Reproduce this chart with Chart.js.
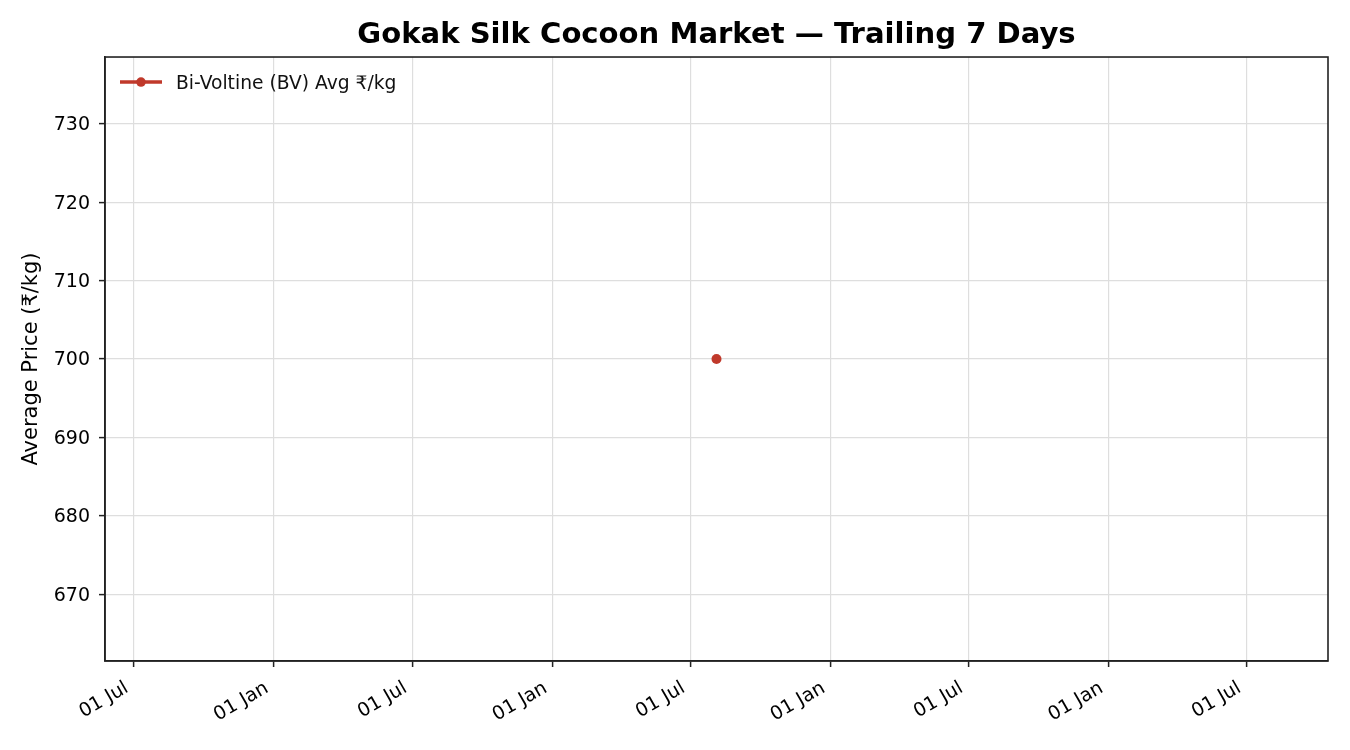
<!DOCTYPE html>
<html>
<head>
<meta charset="utf-8">
<script src="https://cdn.jsdelivr.net/npm/chart.js@4.4.1/dist/chart.umd.min.js"></script>
<style>
  html, body { margin: 0; padding: 0; background: #fff; }
</style>
</head>
<body>
<canvas id="chart" width="1350" height="750"></canvas>
<script>
// market data (one trading day in the trailing window)
const sampleDates = ["2025-08-04"]
const bvAvgPrice = [700]

// axis ticks
const xTickDates = [
  "2023-07-01", "2024-01-01", "2024-07-01", "2025-01-01", "2025-07-01",
  "2026-01-01", "2026-07-01", "2027-01-01", "2027-07-01",
]
const yTicks = [670, 680, 690, 700, 710, 720, 730]

const SERIES_LABEL = "Bi-Voltine (BV) Avg ₹/kg"
const SERIES_COLOR = "#c0392b"
const FONT = "'DejaVu Sans', 'Noto Sans', sans-serif"
const MONTHS = ["Jan", "Feb", "Mar", "Apr", "May", "Jun", "Jul", "Aug", "Sep", "Oct", "Nov", "Dec"]

const toDays = (iso) => {
  const [y, m, d] = iso.split("-").map(Number)
  return Date.UTC(y, m - 1, d) / 864e5
}
const fmtDay = (days) => {
  const dt = new Date(days * 864e5)
  return String(dt.getUTCDate()).padStart(2, "0") + " " + MONTHS[dt.getUTCMonth()]
}

// single-point autoscale the way matplotlib does it: +-2 years, then 5% margin
const xs = sampleDates.map(toDays)
const xPad = 2 * 365 * 1.1
const xMin = Math.min(...xs) - xPad
const xMax = Math.max(...xs) + xPad
const yMid = bvAvgPrice[0]
const yHalf = Math.abs(yMid) * 0.05 * 1.1
const yMin = yMid - yHalf
const yMax = yMid + yHalf

// legend in the upper left corner of the plot (line + marker, like mpl)
const insetLegend = {
  id: "insetLegend",
  afterDatasetsDraw(chart) {
    const { ctx, chartArea: a } = chart
    const ds = chart.data.datasets[0]
    const x0 = a.left + 15
    const y0 = a.top + 25
    ctx.save()
    ctx.strokeStyle = ds.borderColor
    ctx.lineWidth = 3.3
    ctx.beginPath()
    ctx.moveTo(x0, y0)
    ctx.lineTo(x0 + 42, y0)
    ctx.stroke()
    ctx.fillStyle = ds.borderColor
    ctx.beginPath()
    ctx.arc(x0 + 21, y0, 4.8, 0, Math.PI * 2)
    ctx.fill()
    ctx.fillStyle = "#111"
    ctx.font = "18.7px " + FONT
    ctx.textBaseline = "alphabetic"
    ctx.textAlign = "left"
    ctx.fillText(ds.label, x0 + 56, y0 + 6.5)
    ctx.restore()
  },
}

const frame = {
  id: "frame",
  afterDraw(chart) {
    const { ctx, chartArea: a } = chart
    ctx.save()
    ctx.strokeStyle = "#222"
    ctx.lineWidth = 1.6
    ctx.strokeRect(a.left, a.top, a.right - a.left, a.bottom - a.top)
    ctx.restore()
  },
}

const gridStyle = {
  color: "#dedede",
  lineWidth: 1.2,
  tickColor: "#222",
  tickWidth: 1.5,
  tickLength: 6,
}

new Chart(document.getElementById("chart"), {
  type: "line",
  data: {
    datasets: [
      {
        label: SERIES_LABEL,
        data: xs.map((x, i) => ({ x, y: bvAvgPrice[i] })),
        borderColor: SERIES_COLOR,
        backgroundColor: SERIES_COLOR,
        borderWidth: 3,
        pointRadius: 5,
        pointBorderWidth: 0,
        pointBackgroundColor: SERIES_COLOR,
      },
    ],
  },
  options: {
    responsive: false,
    animation: false,
    devicePixelRatio: 1,
    layout: { padding: { left: 0, right: 22, top: 0, bottom: 0 } },
    plugins: {
      title: {
        display: true,
        fullSize: false,
        text: "Gokak Silk Cocoon Market — Trailing 7 Days",
        color: "#000",
        font: { family: FONT, size: 29.1, weight: "bold" },
        padding: { top: 17.8, bottom: 4.3 },
      },
      legend: { display: false },
      tooltip: { enabled: false },
    },
    scales: {
      x: {
        type: "linear",
        min: xMin,
        max: xMax,
        grid: gridStyle,
        border: { color: "#222", width: 1.6 },
        afterBuildTicks: (scale) => {
          scale.ticks = xTickDates.map((d) => ({ value: toDays(d) }))
        },
        afterFit: (scale) => { scale.height = 89 },
        ticks: {
          minRotation: 30,
          maxRotation: 30,
          padding: 10,
          labelOffset: -7,
          color: "#000",
          font: { family: FONT, size: 19 },
          callback: (v) => fmtDay(v),
        },
      },
      y: {
        min: yMin,
        max: yMax,
        grid: gridStyle,
        border: { color: "#222", width: 1.6 },
        afterBuildTicks: (scale) => {
          scale.ticks = yTicks.map((v) => ({ value: v }))
        },
        afterFit: (scale) => { scale.width = 105 },
        ticks: {
          padding: 9,
          labelOffset: 1.5,
          color: "#000",
          font: { family: FONT, size: 19 },
        },
        title: {
          display: true,
          text: "Average Price (₹/kg)",
          color: "#000",
          font: { family: FONT, size: 21 },
          padding: { top: 19, bottom: 0 },
        },
      },
    },
  },
  plugins: [insetLegend, frame],
})
</script>
</body>
</html>
